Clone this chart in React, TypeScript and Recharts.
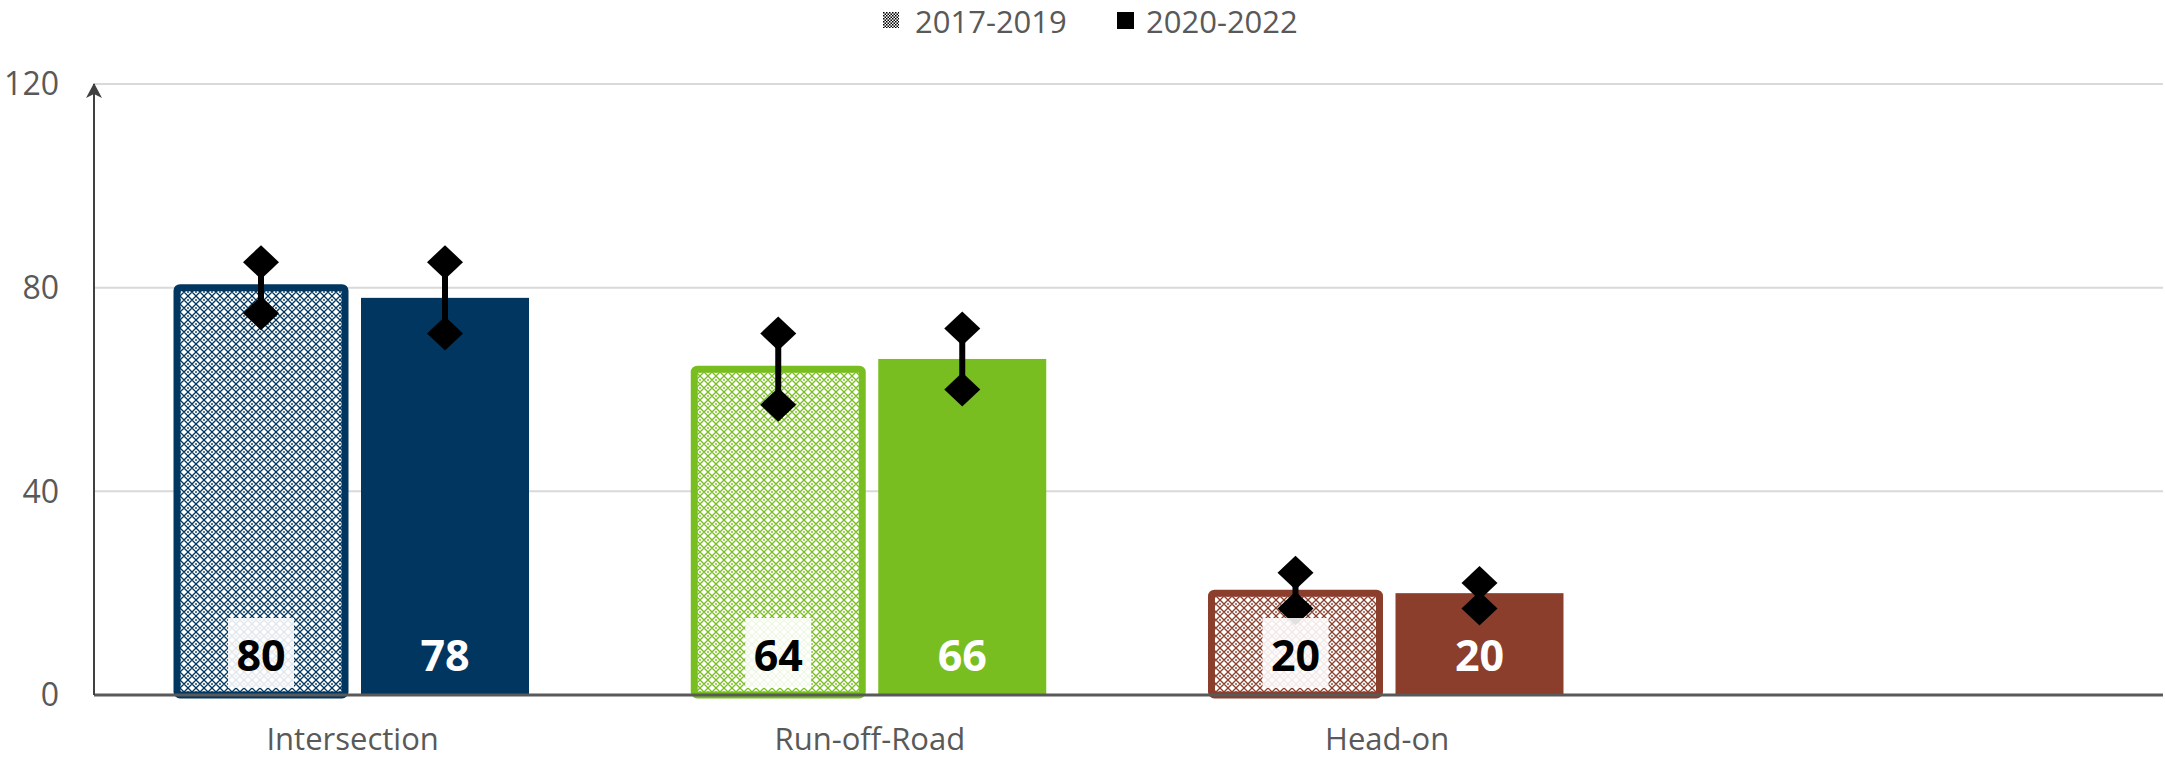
import { Bar, BarChart, CartesianGrid, Cell, LabelList, XAxis, YAxis } from "recharts";

// category labels (4th slot is empty in the source chart)
const categories = ["Intersection", "Run-off-Road", "Head-on", ""];

// bar values
const values1719 = [80, 64, 20, null];
const values2022 = [78, 66, 20, null];

// error ranges (low / high ends)
const low1719 = [75, 57, 17, null];
const high1719 = [85, 71, 24, null];
const low2022 = [71, 60, 17, null];
const high2022 = [85, 72, 22, null];

const yTicks = [0, 40, 80, 120];
const colors = ["#00365F", "#78BE20", "#8B3E2C"];

const data = categories.map((name, i) => ({
  name,
  a: values1719[i],
  aLow: low1719[i],
  aHigh: high1719[i],
  b: values2022[i],
  bLow: low2022[i],
  bHigh: high2022[i],
}));

const FONT = "'Open Sans', 'Noto Sans', sans-serif";
const GREY = "#595959";

function Diamond({ cx, cy }: { cx: number; cy: number }) {
  return (
    <path
      d={`M${cx},${cy - 17} L${cx + 18},${cy} L${cx},${cy + 17} L${cx - 18},${cy} Z`}
      fill="#000"
    />
  );
}

function makeShape(key: "a" | "b", patterned: boolean) {
  return (props: any) => {
    const { x, y, width, height, payload, index } = props;
    const v = payload?.[key];
    if (v == null || !height) return <g />;
    const base = y + height;
    const unit = height / v;
    const lo = base - payload[key + "Low"] * unit;
    const hi = base - payload[key + "High"] * unit;
    const cx = x + width / 2;
    const color = colors[index] ?? "#000";
    return (
      <g>
        {patterned ? (
          <rect
            x={x}
            y={y}
            width={width}
            height={height}
            rx={3}
            fill={`url(#pat-${index})`}
            stroke={color}
            strokeWidth={7}
          />
        ) : (
          <rect x={x} y={y} width={width} height={height} fill={color} />
        )}
        <line x1={cx} y1={hi} x2={cx} y2={lo} stroke="#000" strokeWidth={6} />
        <Diamond cx={cx} cy={hi} />
        <Diamond cx={cx} cy={lo} />
      </g>
    );
  };
}

function makeLabel(patterned: boolean) {
  return (props: any) => {
    const { value } = props;
    if (value == null) return null;
    const x = Number(props.x);
    const y = Number(props.y);
    const width = Number(props.width);
    const height = Number(props.height);
    const cx = x + width / 2;
    const base = y + height;
    return (
      <g>
        {patterned && (
          <rect x={cx - 33} y={base - 77} width={66} height={70} fill="#fff" fillOpacity={0.88} />
        )}
        <text
          x={cx}
          y={base - 41}
          textAnchor="middle"
          dominantBaseline="central"
          fontFamily={FONT}
          fontSize={43}
          fontWeight={700}
          fill={patterned ? "#000" : "#fff"}
        >
          {value}
        </text>
      </g>
    );
  };
}

function LegendOverlay() {
  const text = {
    position: "absolute" as const,
    top: 0,
    fontSize: 31,
    lineHeight: "normal",
    color: GREY,
    fontFamily: FONT,
    whiteSpace: "nowrap" as const,
  };
  return (
    <>
      <svg style={{ position: "absolute", left: 883, top: 12 }} width={16} height={16}>
        <defs>
          <pattern id="legChk" width={3} height={3} patternUnits="userSpaceOnUse">
            <rect width={3} height={3} fill="#fff" />
            <rect width={1.5} height={1.5} fill="#000" />
            <rect x={1.5} y={1.5} width={1.5} height={1.5} fill="#000" />
          </pattern>
        </defs>
        <rect width={16} height={16} fill="url(#legChk)" />
      </svg>
      <span style={{ ...text, left: 915 }}>2017-2019</span>
      <svg style={{ position: "absolute", left: 1117, top: 12 }} width={17} height={17}>
        <rect width={17} height={17} fill="#000" />
      </svg>
      <span style={{ ...text, left: 1146 }}>2020-2022</span>
    </>
  );
}

export default function App() {
  return (
    <div style={{ position: "fixed", left: 0, top: 0, width: 2165, height: 759, background: "#fff" }}>
      <LegendOverlay />
      <BarChart
        width={2165}
        height={759}
        data={data}
        margin={{ top: 84, right: 2, bottom: 0, left: 0 }}
        barSize={168}
        barGap={16}
      >
        <defs>
          {colors.map((c, i) => (
            <pattern key={i} id={`pat-${i}`} width={8} height={8} patternUnits="userSpaceOnUse">
              <rect width={8} height={8} fill="#fff" />
              <path d="M0,4 L4,0 L8,4 L4,8 Z" fill="none" stroke={c} strokeWidth={1.3} />
              <circle cx={4} cy={4} r={0.9} fill={c} />
            </pattern>
          ))}
          <marker
            id="axisArrow"
            markerUnits="userSpaceOnUse"
            markerWidth={18}
            markerHeight={16}
            viewBox="0 0 18 16"
            refX={9}
            refY={1}
            orient="0"
          >
            <path d="M9,0 L17,15 L9,11 L1,15 Z" fill="#404040" />
          </marker>
        </defs>
        <CartesianGrid horizontal vertical={false} stroke="#D9D9D9" strokeWidth={2} />
        <XAxis
          dataKey="name"
          height={64}
          tickSize={0}
          tickMargin={33}
          tickLine={false}
          axisLine={{ stroke: GREY, strokeWidth: 3 }}
          tick={{ fill: GREY, fontSize: 31, fontFamily: FONT }}
          interval={0}
        />
        <YAxis
          width={94}
          domain={[0, 120]}
          ticks={yTicks}
          tickSize={0}
          tickMargin={35}
          tickLine={false}
          axisLine={{ stroke: "#404040", strokeWidth: 2, markerStart: "url(#axisArrow)" }}
          tick={{ fill: GREY, fontSize: 32, fontFamily: FONT }}
        />
        <Bar dataKey="a" name="2017-2019" shape={makeShape("a", true)} isAnimationActive={false}>
          {data.map((_, i) => (
            <Cell key={i} fill={colors[i] ?? "#000"} />
          ))}
          <LabelList dataKey="a" content={makeLabel(true)} />
        </Bar>
        <Bar dataKey="b" name="2020-2022" shape={makeShape("b", false)} isAnimationActive={false}>
          {data.map((_, i) => (
            <Cell key={i} fill={colors[i] ?? "#000"} />
          ))}
          <LabelList dataKey="b" content={makeLabel(false)} />
        </Bar>
      </BarChart>
    </div>
  );
}
